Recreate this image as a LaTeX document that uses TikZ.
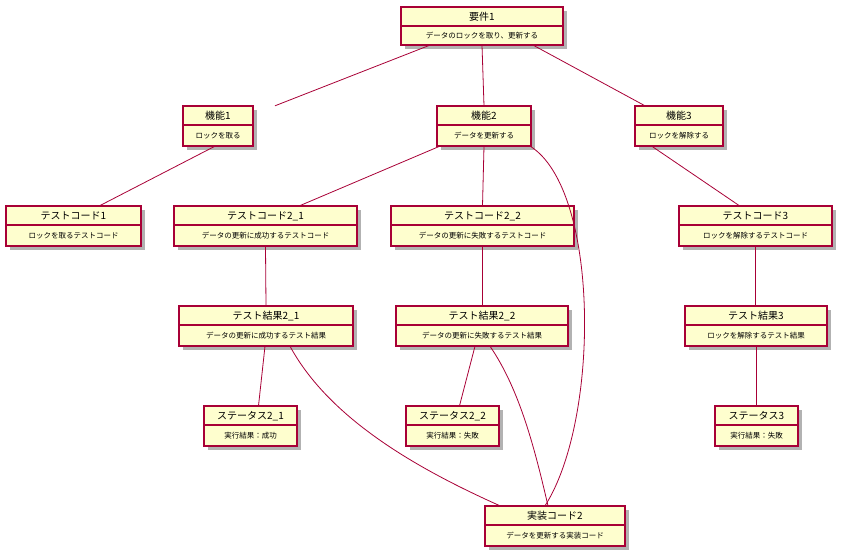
\documentclass[tikz,border=0pt]{standalone}
\usepackage{fontspec}
\setmainfont{Noto Sans CJK JP}
\definecolor{bd}{HTML}{A80036}
\definecolor{fl}{HTML}{FEFECE}
\tikzset{edge/.style={draw=bd,line width=0.8pt}}
\newcommand{\obj}[7]{%
  \fill[black!30] (#2+4,#3+4) rectangle (#4+4,#5+4);
  \filldraw[fill=fl,draw=bd,line width=1.1pt] (#2,#3) rectangle (#4,#5);
  \draw[bd,line width=1.1pt] (#2,#3+19) -- (#4,#3+19);
  \node[font=\fontsize{10}{11}\selectfont] at ({(#2+#4)/2},#3+10) {#6};
  \node[font=\fontsize{7.5}{9}\selectfont] at ({(#2+#4)/2},{(#3+19+#5)/2}) {#7};
  \node[inner sep=0,minimum width={#4-#2},minimum height={#5-#3}] (#1) at ({(#2+#4)/2},{(#3+#5)/2}) {};
}
\begin{document}
\begin{tikzpicture}[x=1pt,y=-1pt]
\useasboundingbox (0,0) rectangle (844,559);
\obj{r1}{401}{7}{563}{45}{要件1}{データのロックを取り、更新する}
\obj{f1}{183}{106}{253}{146}{機能1}{ロックを取る}
\obj{f2}{437}{106}{531}{146}{機能2}{データを更新する}
\obj{f3}{635}{106}{723}{146}{機能3}{ロックを解除する}
\obj{tc1}{6}{206}{141}{246}{テストコード1}{ロックを取るテストコード}
\obj{tc21}{174}{206}{357}{246}{テストコード2\_1}{データの更新に成功するテストコード}
\obj{tc22}{391}{206}{574}{246}{テストコード2\_2}{データの更新に失敗するテストコード}
\obj{tc3}{679}{206}{832}{246}{テストコード3}{ロックを解除するテストコード}
\obj{tr21}{179}{306}{353}{346}{テスト結果2\_1}{データの更新に成功するテスト結果}
\obj{tr22}{396}{306}{568}{346}{テスト結果2\_2}{データの更新に失敗するテスト結果}
\obj{tr3}{685}{306}{827}{346}{テスト結果3}{ロックを解除するテスト結果}
\obj{st21}{204}{406}{297}{446}{ステータス2\_1}{実行結果：成功}
\obj{st22}{406}{406}{499}{446}{ステータス2\_2}{実行結果：失敗}
\obj{st3}{715}{406}{798}{446}{ステータス3}{実行結果：失敗}
\obj{im}{485}{506}{625}{546}{実装コード2}{データを更新する実装コード}
\draw[edge] (r1.south west)+(29,0) -- ([xshift=57pt]f1.north);
\draw[edge] (r1.south) -- (f2.north);
\draw[edge] (r1.south east)+(-30,0) -- ([xshift=-34pt]f3.north);
\draw[edge] ([xshift=-3pt]f1.south) -- ([xshift=26pt]tc1.north);
\draw[edge] ([xshift=3pt]f2.south west) -- ([xshift=34pt]tc21.north);
\draw[edge] (f2.south) -- (tc22.north);
\draw[edge] ([xshift=-1pt]f2.south east) .. controls (600,190) and (600,420) .. ([xshift=-10pt]im.north);
\draw[edge] ([xshift=17pt]f3.south west) -- ([xshift=-16pt]tc3.north);
\draw[edge] (tc21.south) -- (tr21.south |- tr21.north);
\draw[edge] (tc22.south) -- (tc22.south |- tr22.north);
\draw[edge] (tc3.south) -- (tc3.south |- tr3.north);
\draw[edge] (tr3.south) -- (tr3.south |- st3.north);
\draw[edge] ([xshift=-1pt]tr21.south) -- ([xshift=8pt]st21.north);
\draw[edge] ([xshift=24pt]tr21.south) .. controls (330,420) and (420,470) .. ([xshift=-55pt]im.north);
\draw[edge] ([xshift=-7pt]tr22.south) -- ([xshift=7pt]st22.north);
\draw[edge] ([xshift=8pt]tr22.south) .. controls (520,390) and (535,450) .. ([xshift=-7pt]im.north);
\end{tikzpicture}
\end{document}
